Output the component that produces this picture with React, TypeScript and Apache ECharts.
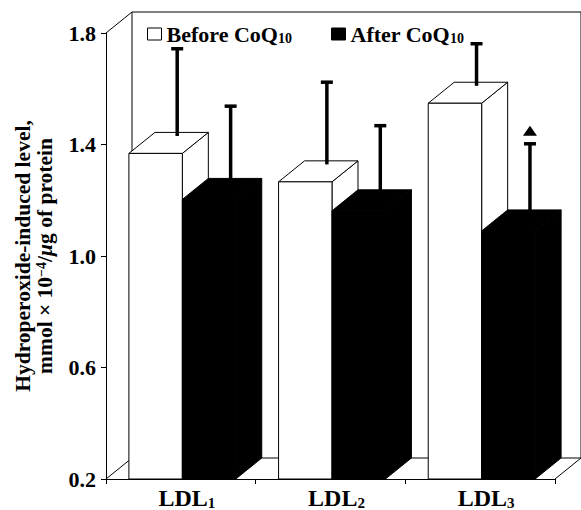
import React, { useEffect, useRef } from "react";
import * as echarts from "echarts";

// ---- data ----
const categories = ["LDL1", "LDL2", "LDL3"];
const seriesNames = ["Before CoQ10", "After CoQ10"];
const beforeValues = [1.368, 1.266, 1.548];
const beforeSD = [0.313, 0.295, 0.151];
const afterValues = [1.203, 1.162, 1.09];
const afterSD = [0.272, 0.243, 0.25];
const afterSignificant = [0, 0, 1];
const yMin = 0.2;
const yMax = 1.8;
const yInterval = 0.4;

const FONT = "'Liberation Serif', 'Times New Roman', serif";
const DX = 26;
const DY = -21;
const ERR_K = 0.83;

function barGeom(api: any, i: number, seriesIdx: number) {
  const bw = api.size([1, 0])[0];
  const c = api.coord([i, yMin]);
  const w = bw * 0.357;
  const x0 = c[0] - bw / 2 + bw * 0.153 + seriesIdx * w;
  return { x0, w, yBase: c[1] };
}

function barSeries(name: string, values: number[], seriesIdx: number, fill: string) {
  return {
    type: "custom",
    name,
    itemStyle: { color: fill, borderColor: "#000", borderWidth: 1 },
    data: values.map((v, i) => [i, v]),
    renderItem: (params: any, api: any) => {
      const i = api.value(0);
      const v = api.value(1);
      const { x0, w, yBase } = barGeom(api, i, seriesIdx);
      const yT = api.coord([i, v])[1];
      const x1 = x0 + w;
      const style = { fill, stroke: "#000", lineWidth: 1 };
      return {
        type: "group",
        children: [
          {
            type: "polygon",
            shape: { points: [[x1, yBase], [x1 + DX, yBase + DY], [x1 + DX, yT + DY], [x1, yT]] },
            style,
          },
          {
            type: "polygon",
            shape: { points: [[x0, yT], [x0 + DX, yT + DY], [x1 + DX, yT + DY], [x1, yT]] },
            style,
          },
          { type: "rect", shape: { x: x0, y: yT, width: w, height: yBase - yT }, style },
        ],
      };
    },
  };
}

function errSeries(name: string, values: number[], sds: number[], seriesIdx: number, sig: number[]) {
  return {
    type: "custom",
    name,
    data: values.map((v, i) => [i, v, v + sds[i], sig[i]]),
    renderItem: (params: any, api: any) => {
      const i = api.value(0);
      const v = api.value(1);
      const up = api.value(2);
      const s = api.value(3);
      const { x0, w } = barGeom(api, i, seriesIdx);
      const xc = x0 + w / 2 + DX * ERR_K;
      const yb = api.coord([i, v])[1] + DY * ERR_K;
      const yt = api.coord([i, up])[1] + DY * ERR_K;
      const ls = { stroke: "#000", lineWidth: 3.5 };
      const children: any[] = [
        { type: "line", shape: { x1: xc, y1: yb, x2: xc, y2: yt }, style: ls },
        { type: "line", shape: { x1: xc - 6, y1: yt, x2: xc + 6, y2: yt }, style: ls },
      ];
      if (s) {
        children.push({
          type: "polygon",
          shape: { points: [[xc - 7, yt - 8], [xc + 7, yt - 8], [xc, yt - 18]] },
          style: { fill: "#000" },
        });
      }
      return { type: "group", children };
    },
  };
}

const wallSeries = {
  type: "custom",
  name: "walls",
  data: [[0, yMin]],
  silent: true,
  renderItem: (params: any) => {
    const cs = params.coordSys;
    const x = cs.x, y = cs.y, w = cs.width, h = cs.height;
    const ls = { stroke: "#000", lineWidth: 1 };
    return {
      type: "group",
      children: [
        {
          type: "polygon",
          shape: {
            points: [[x + DX, y + DY], [x + w + DX, y + DY], [x + w + DX, y + h + DY], [x + DX, y + h + DY]],
          },
          style: { fill: "#fff", stroke: "#000", lineWidth: 1 },
        },
        { type: "line", shape: { x1: x, y1: y, x2: x + DX, y2: y + DY }, style: ls },
        { type: "line", shape: { x1: x, y1: y + h, x2: x + DX, y2: y + h + DY }, style: ls },
        { type: "line", shape: { x1: x + w, y1: y + h, x2: x + w + DX, y2: y + h + DY }, style: ls },
      ],
    };
  },
};

const legendRich = {
  m: { fontFamily: FONT, fontSize: 22, fontWeight: "bold", color: "#000", lineHeight: 22, verticalAlign: "bottom" },
  s: { fontFamily: FONT, fontSize: 14, fontWeight: "bold", color: "#000", lineHeight: 10, verticalAlign: "bottom" },
};

function legendFor(name: string, left: number, fill: string) {
  return {
    show: true,
    left,
    top: 23,
    orient: "horizontal",
    itemWidth: 14,
    itemHeight: 12,
    padding: 0,
    selectedMode: false,
    icon: "rect",
    data: [{ name, icon: "rect", itemStyle: { color: fill, borderColor: "#000", borderWidth: 1 } }],
    formatter: (n: string) => n.replace(/^(.*CoQ)(10)$/, "{m|$1}{s|$2}"),
    textStyle: { fontFamily: FONT, fontSize: 22, color: "#000", rich: legendRich },
  };
}

export default function App() {
  const ref = useRef<HTMLDivElement>(null);
  useEffect(() => {
    if (!ref.current) return;
    const chart = echarts.init(ref.current, null, { renderer: "svg" });
    chart.setOption({
      animation: false,
      backgroundColor: "#fff",
      textStyle: { fontFamily: FONT, color: "#000" },
      legend: [legendFor(seriesNames[0], 147, "#fff"), legendFor(seriesNames[1], 331, "#000")],
      grid: { left: 106, right: 26, top: 33, bottom: 31, containLabel: false },
      xAxis: {
        type: "category",
        data: categories,
        boundaryGap: true,
        axisLine: { show: true, lineStyle: { color: "#000", width: 1 } },
        axisTick: { show: true, length: 5, lineStyle: { color: "#000" }, alignWithLabel: false },
        splitLine: { show: false },
        axisLabel: {
          margin: 9,
          padding: [0, 0, 0, 12],
          formatter: (v: string) => v.replace(/^(LDL)(\d)$/, "{m|$1}{s|$2}"),
          rich: {
            m: { fontFamily: FONT, fontSize: 24, fontWeight: "bold", color: "#000", lineHeight: 22, verticalAlign: "bottom" },
            s: { fontFamily: FONT, fontSize: 15, fontWeight: "bold", color: "#000", lineHeight: 10, verticalAlign: "bottom" },
          },
        },
      },
      yAxis: {
        type: "value",
        min: yMin,
        max: yMax,
        interval: yInterval,
        axisLine: { show: true, lineStyle: { color: "#000", width: 1 } },
        axisTick: { show: true, length: 5, lineStyle: { color: "#000" } },
        splitLine: { show: false },
        axisLabel: {
          margin: 10,
          fontFamily: FONT,
          fontSize: 22,
          fontWeight: "bold",
          color: "#000",
          formatter: (v: number) => v.toFixed(1),
        },
        name:
          "{m|Hydroperoxide-induced level,}\n{m|mmol × 10}{sup|−4}{m|/}{mi|μ}{m|g of protein}",
        nameLocation: "middle",
        nameRotate: 90,
        nameGap: 50,
        nameTextStyle: {
          fontFamily: FONT,
          color: "#000",
          rich: {
            m: { fontFamily: FONT, fontSize: 21.5, fontWeight: "bold", color: "#000", lineHeight: 22, verticalAlign: "middle" },
            mi: { fontFamily: FONT, fontSize: 21.5, fontWeight: "bold", color: "#000", lineHeight: 22, fontStyle: "italic", verticalAlign: "middle" },
            sup: { fontFamily: FONT, fontSize: 14, fontWeight: "bold", color: "#000", lineHeight: 10, verticalAlign: "top" },
          },
        },
      },
      series: [
        wallSeries,
        barSeries(seriesNames[0], beforeValues, 0, "#fff"),
        barSeries(seriesNames[1], afterValues, 1, "#000"),
        errSeries("Before SD", beforeValues, beforeSD, 0, [0, 0, 0]),
        errSeries("After SD", afterValues, afterSD, 1, afterSignificant),
      ],
    });
    return () => chart.dispose();
  }, []);
  return (
    <div
      ref={ref}
      style={{ position: "fixed", left: 0, top: 0, width: 581, height: 510, background: "#fff" }}
    />
  );
}
